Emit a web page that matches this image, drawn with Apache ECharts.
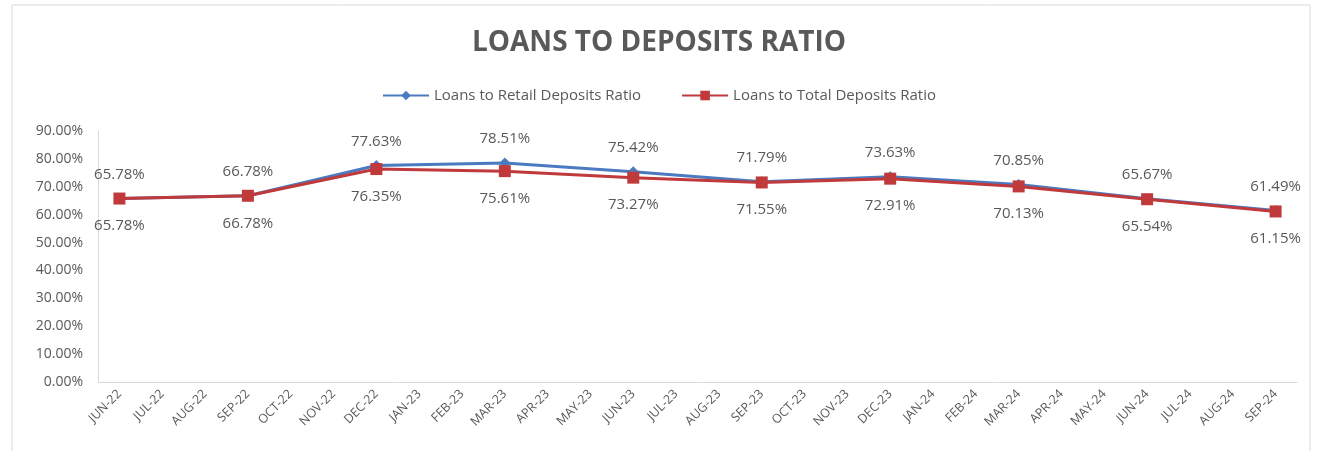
<!DOCTYPE html>
<html><head><meta charset="utf-8">
<script src="https://cdn.jsdelivr.net/npm/echarts@6/dist/echarts.min.js"></script>
<style>html,body{margin:0;padding:0;background:#fff}#c{width:1318px;height:451px}</style>
</head><body><div id="c"></div>
<script>
const months = ['JUN-22','JUL-22','AUG-22','SEP-22','OCT-22','NOV-22','DEC-22','JAN-23','FEB-23','MAR-23','APR-23','MAY-23','JUN-23','JUL-23','AUG-23','SEP-23','OCT-23','NOV-23','DEC-23','JAN-24','FEB-24','MAR-24','APR-24','MAY-24','JUN-24','JUL-24','AUG-24','SEP-24'];
const retailRatio = [65.78,null,null,66.78,null,null,77.63,null,null,78.51,null,null,75.42,null,null,71.79,null,null,73.63,null,null,70.85,null,null,65.67,null,null,61.49];
const totalRatio  = [65.78,null,null,66.78,null,null,76.35,null,null,75.61,null,null,73.27,null,null,71.55,null,null,72.91,null,null,70.13,null,null,65.54,null,null,61.15];
const seriesNames = ['Loans to Retail Deposits Ratio','Loans to Total Deposits Ratio'];

const chart = echarts.init(document.getElementById('c'), null, {renderer:'canvas'});
const font = '"Open Sans", sans-serif';
const grey = '#595959';
chart.setOption({
  animation:false,
  graphic:[{type:'rect',shape:{x:12,y:5,width:1298,height:460},style:{fill:'none',stroke:'#d9d9d9',lineWidth:1}}],
  title:{text:'LOANS TO DEPOSITS RATIO',left:'center',top:24,textStyle:{fontFamily:font,fontSize:28,fontWeight:'bold',color:grey}},
  legend:{top:83,left:'center',itemWidth:46,itemHeight:12,itemGap:40,textStyle:{fontFamily:font,fontSize:15,color:grey},data:seriesNames},
  grid:{left:98,right:21,top:131,bottom:69,containLabel:false},
  xAxis:{type:'category',data:months,boundaryGap:true,
    axisLine:{lineStyle:{color:'#d9d9d9'}},axisTick:{show:false},
    axisLabel:{interval:0,rotate:45,fontFamily:font,fontSize:12.5,color:grey,margin:10}},
  yAxis:{type:'value',min:0,max:90,interval:10,
    axisLine:{show:true,lineStyle:{color:'#d9d9d9'}},axisTick:{show:false},splitLine:{show:false},
    axisLabel:{formatter:v=>v.toFixed(2)+'%',fontFamily:font,fontSize:14,color:grey,margin:15}},
  series:[
    {name:seriesNames[0],type:'line',data:retailRatio,connectNulls:true,
     symbol:'diamond',symbolSize:11,itemStyle:{color:'#4a7bc0'},lineStyle:{width:3,color:'#4a7bc0'},
     label:{show:true,position:'top',distance:11,formatter:p=>p.value.toFixed(2)+'%',fontFamily:font,fontSize:15,color:grey},z:2},
    {name:seriesNames[1],type:'line',data:totalRatio,connectNulls:true,
     symbol:'rect',symbolSize:12,itemStyle:{color:'#c0393b'},lineStyle:{width:3,color:'#c0393b'},
     label:{show:true,position:'bottom',distance:14,formatter:p=>p.value.toFixed(2)+'%',fontFamily:font,fontSize:15,color:grey},z:3}
  ]
});
</script></body></html>
